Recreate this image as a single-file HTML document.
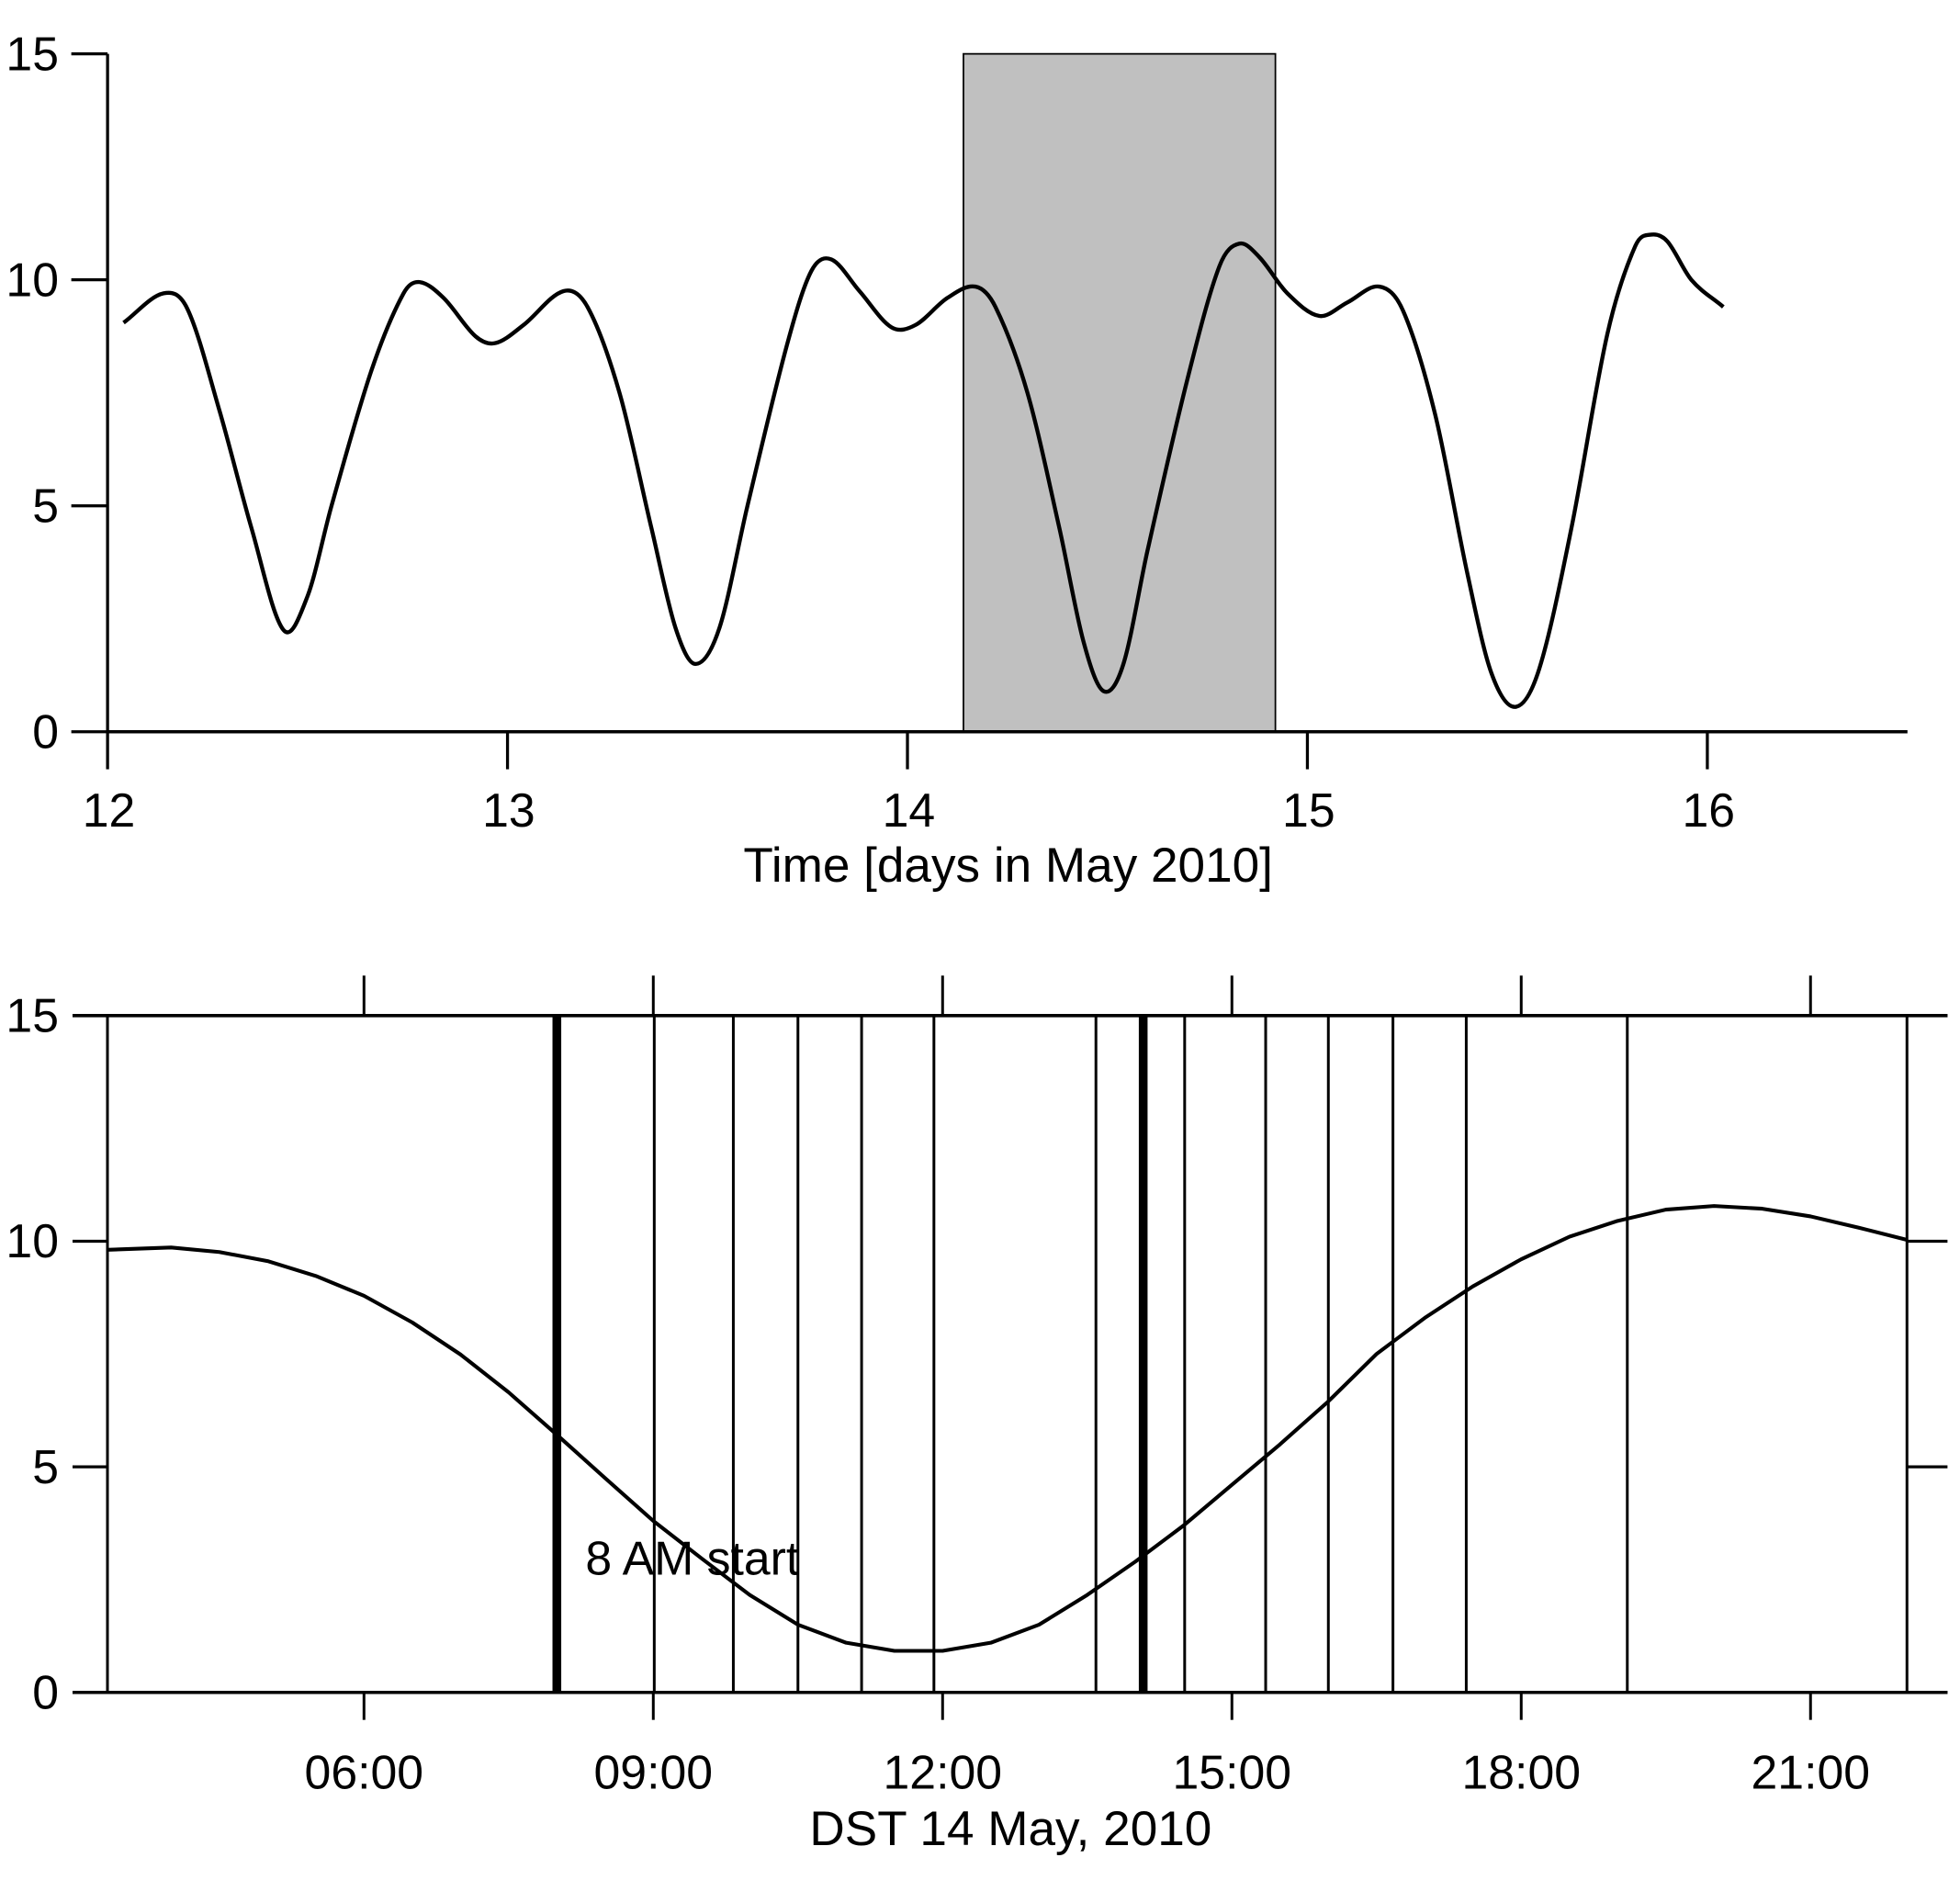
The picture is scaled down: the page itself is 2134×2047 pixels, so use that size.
<!DOCTYPE html>
<html><head><meta charset="utf-8"><style>
html,body{margin:0;padding:0;background:#fff;}
svg{display:block;}
text{font-family:"Liberation Sans",sans-serif;fill:#000;}
</style></head><body>
<svg id="chart" width="2134" height="2047" viewBox="0 0 1567 1503" preserveAspectRatio="none" xmlns="http://www.w3.org/2000/svg">
<g id="top"></g>
<g id="bot"></g>
</svg>
<script>
// ---- top panel data ----
const topDays = [12.04,12.14,12.2,12.28,12.36,12.44,12.5,12.56,12.66,12.74,12.78,12.84,12.92,12.97,13.04,13.14,13.2,13.28,13.36,13.42,13.47,13.53,13.6,13.7,13.76,13.81,13.88,13.96,14.02,14.1,14.17,14.22,14.3,14.38,14.44,14.49,14.54,14.6,14.7,14.78,14.83,14.88,14.95,15.03,15.1,15.18,15.24,15.32,15.4,15.46,15.52,15.58,15.66,15.75,15.82,15.86,15.9,15.96,16.04];
const topValues = [9.05,9.7,9.35,7.1,4.5,2.25,3.0,5.0,8.0,9.7,9.95,9.6,8.75,8.6,9.0,9.75,9.4,7.5,4.5,2.3,1.5,2.3,5.0,8.6,10.2,10.45,9.75,8.95,9.0,9.6,9.85,9.4,7.5,4.5,2.0,0.9,1.5,4.0,7.8,10.3,10.8,10.5,9.7,9.2,9.5,9.85,9.3,7.0,3.5,1.3,0.55,1.4,4.5,8.8,10.75,11.0,10.85,10.0,9.4];
const topXTicks = [12,13,14,15,16];
const topYTicks = [0,5,10,15];
const shadeRange = [14.14,14.92];
// ---- bottom panel data ----
const botHours = [3.34,4,4.5,5,5.5,6,6.5,7,7.5,8,8.5,9,9.5,10,10.5,11,11.5,12,12.5,13,13.5,14,14.5,15,15.5,16,16.5,17,17.5,18,18.5,19,19.5,20,20.5,21,21.5,22];
const botValues = [9.81,9.86,9.76,9.56,9.23,8.79,8.2,7.49,6.65,5.71,4.75,3.8,2.97,2.16,1.5,1.1,0.92,0.92,1.1,1.5,2.16,2.9,3.7,4.6,5.5,6.45,7.5,8.3,9.0,9.6,10.1,10.45,10.7,10.78,10.72,10.55,10.3,10.03];
const markerHours = [3.34,9.01,9.83,10.5,11.16,11.91,13.59,14.51,15.35,16.0,16.67,17.43,19.1,22.0];
const thickHours = [8.0,14.08];
const botXTicks = [6,9,12,15,18,21];
const botXLabels = ["06:00","09:00","12:00","15:00","18:00","21:00"];
const botYTicks = [0,5,10,15];

const NS="http://www.w3.org/2000/svg";
function mk(parent,tag,attrs,txt){const e=document.createElementNS(NS,tag);for(const k in attrs)e.setAttribute(k,attrs[k]);if(txt!==undefined)e.textContent=txt;parent.appendChild(e);return e;}

// top axes
const tx=d=>86+(d-12)*319.75;
const ty=v=>585-v*36.13;
const T=document.getElementById('top');
let r=mk(T,'rect',{x:tx(shadeRange[0]),y:ty(15),width:tx(shadeRange[1])-tx(shadeRange[0]),height:ty(0)-ty(15),fill:'#c0c0c0',stroke:'#000','stroke-width':1.3});


let l=mk(T,'line',{x1:86,y1:ty(15),x2:86,y2:ty(0),stroke:'#000','stroke-width':2.4});


l=mk(T,'line',{x1:86,y1:ty(0),x2:1525,y2:ty(0),stroke:'#000','stroke-width':2.6});


topYTicks.forEach(v=>{
  const t=mk(T,'line',{x1:57,y1:ty(v),x2:86,y2:ty(v),stroke:'#000','stroke-width':2.4});
  
  
  const s=mk(T,'text',{x:47,y:ty(v)+13,'font-size':38,'text-anchor':'end'},String(v));
  
  
});
topXTicks.forEach(d=>{
  const t=mk(T,'line',{x1:tx(d),y1:ty(0),x2:tx(d),y2:ty(0)+30,stroke:'#000','stroke-width':2.4});
  
  
  const s=mk(T,'text',{x:tx(d)+1,y:661,'font-size':38,'text-anchor':'middle'},String(d));
  
  
});
let tt=mk(T,'text',{x:806,y:705,'font-size':39,'text-anchor':'middle'},'Time [days in May 2010]');


// smooth path (cubic Hermite in data space)
const n=topDays.length;
const slope=i=>{const a=Math.max(0,i-1),b=Math.min(n-1,i+1);return (topValues[b]-topValues[a])/(topDays[b]-topDays[a]);};
let dstr='M'+tx(topDays[0])+','+ty(topValues[0]);
for(let i=0;i<n-1;i++){
  const h=topDays[i+1]-topDays[i];
  const c1x=topDays[i]+h/3,c1y=topValues[i]+slope(i)*h/3;
  const c2x=topDays[i+1]-h/3,c2y=topValues[i+1]-slope(i+1)*h/3;
  dstr+=' C'+tx(c1x)+','+ty(c1y)+' '+tx(c2x)+','+ty(c2y)+' '+tx(topDays[i+1])+','+ty(topValues[i+1]);
}
let p=mk(T,'path',{d:dstr,fill:'none',stroke:'#000','stroke-width':3.2,'stroke-linejoin':'round'});



// bottom
const bx=h=>291+(h-6)*77.1;
const by=v=>1353-v*36.07;
const B=document.getElementById('bot');
markerHours.forEach(h=>{
  const m=mk(B,'line',{x1:bx(h),y1:by(15),x2:bx(h),y2:by(0),stroke:'#000','stroke-width':2.2});
  
  
});
thickHours.forEach(h=>{
  const m=mk(B,'line',{x1:bx(h),y1:by(15),x2:bx(h),y2:by(0),stroke:'#000','stroke-width':7});
  
  
});
l=mk(B,'line',{x1:58,y1:by(15),x2:1557,y2:by(15),stroke:'#000','stroke-width':2.6});


l=mk(B,'line',{x1:58,y1:by(0),x2:1557,y2:by(0),stroke:'#000','stroke-width':2.6});


botYTicks.forEach(v=>{
  const t=mk(B,'line',{x1:58,y1:by(v),x2:86,y2:by(v),stroke:'#000','stroke-width':2.4});
  
  
  const t2=mk(B,'line',{x1:1525,y1:by(v),x2:1557,y2:by(v),stroke:'#000','stroke-width':2.4});
  
  
  const s=mk(B,'text',{x:47,y:by(v)+13,'font-size':38,'text-anchor':'end'},String(v));
  
  
});
botXTicks.forEach((h,i)=>{
  const t=mk(B,'line',{x1:bx(h),y1:by(0),x2:bx(h),y2:by(0)+22,stroke:'#000','stroke-width':2.2});
  
  
  const t2=mk(B,'line',{x1:bx(h),y1:by(15)-32,x2:bx(h),y2:by(15),stroke:'#000','stroke-width':2.2});
  
  
  const s=mk(B,'text',{x:bx(h),y:1430,'font-size':38,'text-anchor':'middle'},botXLabels[i]);
  
  
});
tt=mk(B,'text',{x:808,y:1475,'font-size':39,'text-anchor':'middle'},'DST 14 May, 2010');


p=mk(B,'polyline',{points:botHours.map((h,i)=>bx(h)+','+by(botValues[i])).join(' '),fill:'none',stroke:'#000','stroke-width':3,'stroke-linejoin':'round'});


tt=mk(B,'text',{x:468,y:1259,'font-size':38},'8 AM start');


</script>
</body></html>
